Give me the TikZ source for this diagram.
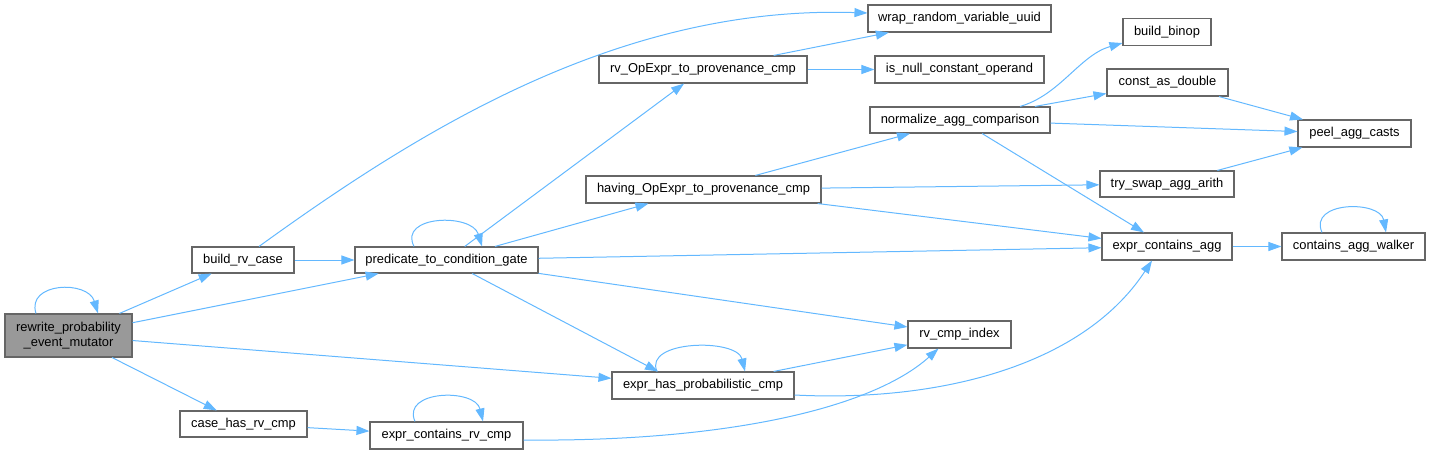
\documentclass[tikz,border=0pt]{standalone}
\usepackage{fontspec}
\setmainfont{Liberation Sans}
\usetikzlibrary{arrows.meta}
\definecolor{edgeblue}{HTML}{63B8FF}
\definecolor{boxgray}{HTML}{666666}
\definecolor{mainfill}{HTML}{999999}
\begin{document}
\begin{tikzpicture}[x=1pt,y=-1pt,
  fn/.style={draw=boxgray, line width=1.1pt, fill=white, minimum height=27pt, inner sep=0pt,
    font=\fontsize{12.9}{15.5}\selectfont},
  call/.style={draw=edgeblue, line width=1pt, -{Triangle[length=13pt,width=9pt]}}]
\useasboundingbox (0,0) rectangle (1430,455);
% nodes
\node[fn, minimum width=127pt, minimum height=43pt, fill=mainfill, align=center] (A) at (68.5,335.5) {rewrite\_probability\\\_event\_mutator};
\node[fn, minimum width=102pt, minimum height=26pt] (B) at (243,260) {build\_rv\_case};
\node[fn, minimum width=127pt, minimum height=26pt] (C) at (243.5,424) {case\_has\_rv\_cmp};
\node[fn, minimum width=183pt, minimum height=26pt] (D) at (446.5,260) {predicate\_to\_condition\_gate};
\node[fn, minimum width=182pt] (E) at (703,385.5) {expr\_has\_probabilistic\_cmp};
\node[fn, minimum width=153pt] (F) at (446.5,435.5) {expr\_contains\_rv\_cmp};
\node[fn, minimum width=208pt] (G) at (703,69.5) {rv\_OpExpr\_to\_provenance\_cmp};
\node[fn, minimum width=235pt] (H) at (703.5,189.5) {having\_OpExpr\_to\_provenance\_cmp};
\node[fn, minimum width=183pt] (I) at (959.5,18.5) {wrap\_random\_variable\_uuid};
\node[fn, minimum width=169pt] (J) at (959.5,69.5) {is\_null\_constant\_operand};
\node[fn, minimum width=180pt, minimum height=26pt] (K) at (960,120) {normalize\_agg\_comparison};
\node[fn, minimum width=103pt] (L) at (959.5,334.5) {rv\_cmp\_index};
\node[fn, minimum width=88pt] (M) at (1167,32) {build\_binop};
\node[fn, minimum width=121pt] (N) at (1167.5,82.5) {const\_as\_double};
\node[fn, minimum width=134pt, minimum height=26pt] (O) at (1167,184) {try\_swap\_agg\_arith};
\node[fn, minimum width=130pt] (P) at (1167,246.5) {expr\_contains\_agg};
\node[fn, minimum width=113pt] (Q) at (1354.5,133.5) {peel\_agg\_casts};
\node[fn, minimum width=143pt] (R) at (1353.5,246.5) {contains\_agg\_walker};
% edges
\draw[call] ([xshift=-32.5pt]A.north) .. controls (26,282) and (88,280) .. ([xshift=29.5pt]A.north);
\draw[call] (A) -- (B);
\draw[call] (A) -- (D);
\draw[call] (A) -- (E);
\draw[call] (A) -- (C);
\draw[call] ([xshift=16pt]B.north) .. controls (420,130) and (620,5) .. ([yshift=5.5pt]I.west);
\draw[call] (B) -- (D);
\draw[call] ([xshift=-32.5pt]D.north) .. controls (398,215) and (472,213) .. ([xshift=35.5pt]D.north);
\draw[call] (D) -- (G);
\draw[call] (D) -- ([xshift=-55pt]H.south);
\draw[call] (D) -- (P);
\draw[call] (D) -- (L);
\draw[call] (D) -- ([xshift=-45pt]E.north);
\draw[call] (G) -- (I);
\draw[call] (G) -- (J);
\draw[call] (H) -- (K);
\draw[call] (H) -- (O);
\draw[call] (H) -- (P);
\draw[call] ([xshift=60pt]K.north) .. controls (1060,95) and (1080,55) .. ([yshift=3pt]M.south west);
\draw[call] (K) -- (N);
\draw[call] (K) -- (Q);
\draw[call] (K) -- (P);
\draw[call] (N) -- (Q);
\draw[call] (O) -- (Q);
\draw[call] (P) -- (R);
\draw[call] ([xshift=-31.5pt]R.north) .. controls (1308,201) and (1380,200) .. ([xshift=32.5pt]R.north);
\draw[call] ([xshift=-46pt]E.north) .. controls (643,340) and (737,338) .. ([xshift=42pt]E.north);
\draw[call] (E) -- (L);
\draw[call] ([yshift=-9.5pt]E.east) .. controls (930,402) and (1080,370) .. ([xshift=-15pt]P.south);
\draw[call] (C) -- (F);
\draw[call] ([xshift=-31.5pt]F.north) .. controls (401,390) and (475,388) .. ([xshift=36.5pt]F.north);
\draw[call] ([yshift=-4.5pt]F.east) .. controls (720,442) and (870,410) .. ([xshift=-21pt]L.south);
\end{tikzpicture}
\end{document}
